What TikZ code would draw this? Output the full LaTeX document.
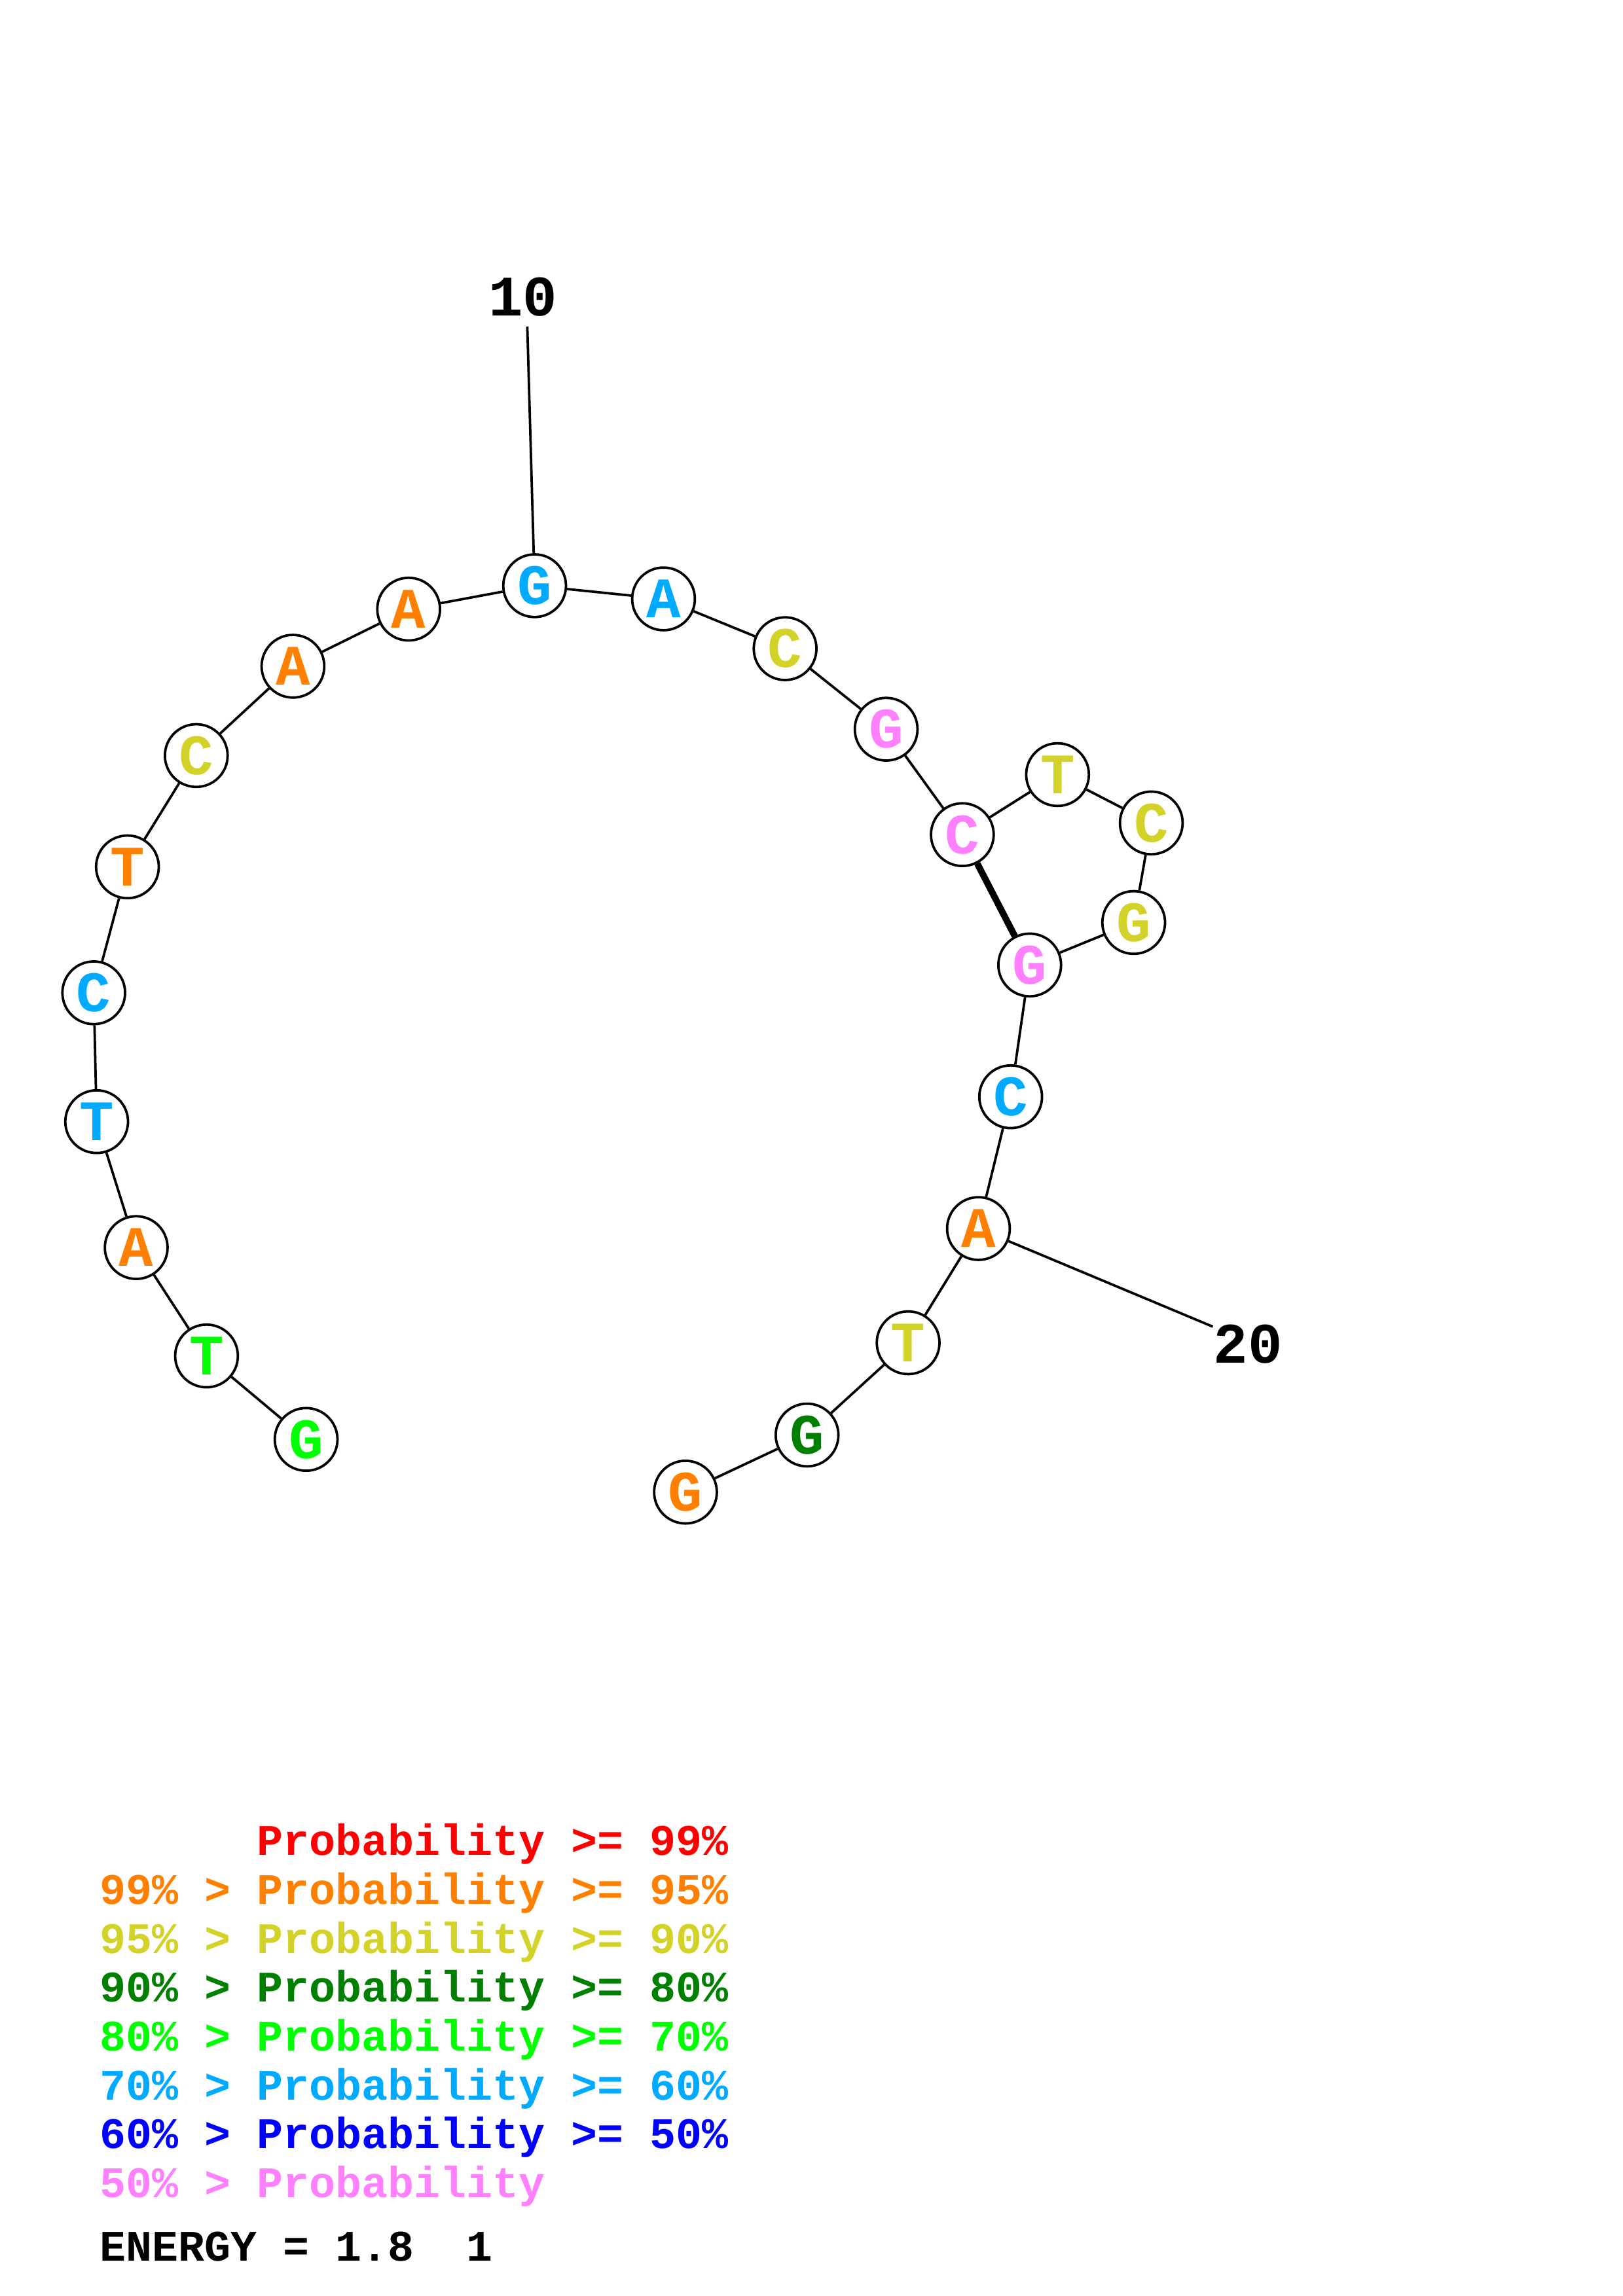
\documentclass[tikz,border=0pt]{standalone}
\usepackage{fontspec}
\setmonofont{Liberation Mono}
\definecolor{pRed}{RGB}{255,0,0}
\definecolor{pOrange}{RGB}{255,128,0}
\definecolor{pYellow}{RGB}{210,210,40}
\definecolor{pDGreen}{RGB}{0,128,0}
\definecolor{pGreen}{RGB}{0,255,0}
\definecolor{pCyan}{RGB}{0,170,255}
\definecolor{pBlue}{RGB}{0,0,255}
\definecolor{pPink}{RGB}{255,128,255}
\begin{document}
\begin{tikzpicture}[x=0.5372pt,y=-0.5372pt,
  nt/.style={circle, draw=black, line width=0.9pt, fill=white, minimum size=23pt, inner sep=0pt,
    font=\ttfamily\bfseries\fontsize{21}{21}\selectfont},
  bond/.style={line width=0.9pt},
  pairbond/.style={line width=2.4pt},
  numlbl/.style={inner sep=0pt, font=\ttfamily\bfseries\fontsize{21}{21}\selectfont},
  leg/.style={anchor=base west, inner sep=0pt, font=\ttfamily\bfseries\fontsize{16}{16}\selectfont}]
\useasboundingbox (0,0) rectangle (1108,1568);
% nucleotides
\node[nt, text=pGreen]  (n1)  at (209,983) {G};
\node[nt, text=pGreen]  (n2)  at (141,926) {T};
\node[nt, text=pOrange] (n3)  at (93,852)  {A};
\node[nt, text=pCyan]   (n4)  at (66,766)  {T};
\node[nt, text=pCyan]   (n5)  at (64,678)  {C};
\node[nt, text=pOrange] (n6)  at (87,592)  {T};
\node[nt, text=pYellow] (n7)  at (134,516) {C};
\node[nt, text=pOrange] (n8)  at (200,455) {A};
\node[nt, text=pOrange] (n9)  at (279,416) {A};
\node[nt, text=pCyan]   (n10) at (365,400) {G};
\node[nt, text=pCyan]   (n11) at (453,409) {A};
\node[nt, text=pYellow] (n12) at (536,443) {C};
\node[nt, text=pPink]   (n13) at (605,498) {G};
\node[nt, text=pPink]   (n14) at (657,570) {C};
\node[nt, text=pYellow] (n15) at (722,529) {T};
\node[nt, text=pYellow] (n16) at (786,562) {C};
\node[nt, text=pYellow] (n17) at (774,630) {G};
\node[nt, text=pPink]   (n18) at (703,659) {G};
\node[nt, text=pCyan]   (n19) at (690,749) {C};
\node[nt, text=pOrange] (n20) at (668,839) {A};
\node[nt, text=pYellow] (n21) at (620,917) {T};
\node[nt, text=pDGreen] (n22) at (551,980) {G};
\node[nt, text=pOrange] (n23) at (468,1019) {G};
% backbone
\foreach \a/\b in {n1/n2,n2/n3,n3/n4,n4/n5,n5/n6,n6/n7,n7/n8,n8/n9,n9/n10,n10/n11,n11/n12,n12/n13,n13/n14,n14/n15,n15/n16,n16/n17,n17/n18,n18/n19,n19/n20,n20/n21,n21/n22,n22/n23}
  \draw[bond] (\a) -- (\b);
% base pair
\draw[pairbond] (n14) -- (n18);
% numbering
\coordinate (c10) at (360,223);
\node[numlbl] (l10) at (357,203) {10};
\draw[bond] (n10) -- (c10);
\coordinate (c20) at (828,906);
\node[numlbl] (l20) at (852,918) {20};
\draw[bond] (n20) -- (c20);
% legend
\node[leg, text=pRed]    (g1) at (68,1267) {\phantom{99\% > }Probability >= 99\%};
\node[leg, text=pOrange] (g2) at (68,1300.4) {99\% > Probability >= 95\%};
\node[leg, text=pYellow] (g3) at (68,1333.8) {95\% > Probability >= 90\%};
\node[leg, text=pDGreen] (g4) at (68,1367.2) {90\% > Probability >= 80\%};
\node[leg, text=pGreen]  (g5) at (68,1400.6) {80\% > Probability >= 70\%};
\node[leg, text=pCyan]   (g6) at (68,1434) {70\% > Probability >= 60\%};
\node[leg, text=pBlue]   (g7) at (68,1467.4) {60\% > Probability >= 50\%};
\node[leg, text=pPink]   (g8) at (68,1500.8) {50\% > Probability};
\node[leg, text=black]   (en) at (68,1544) {ENERGY = 1.8\ \ 1};
\end{tikzpicture}
\end{document}
